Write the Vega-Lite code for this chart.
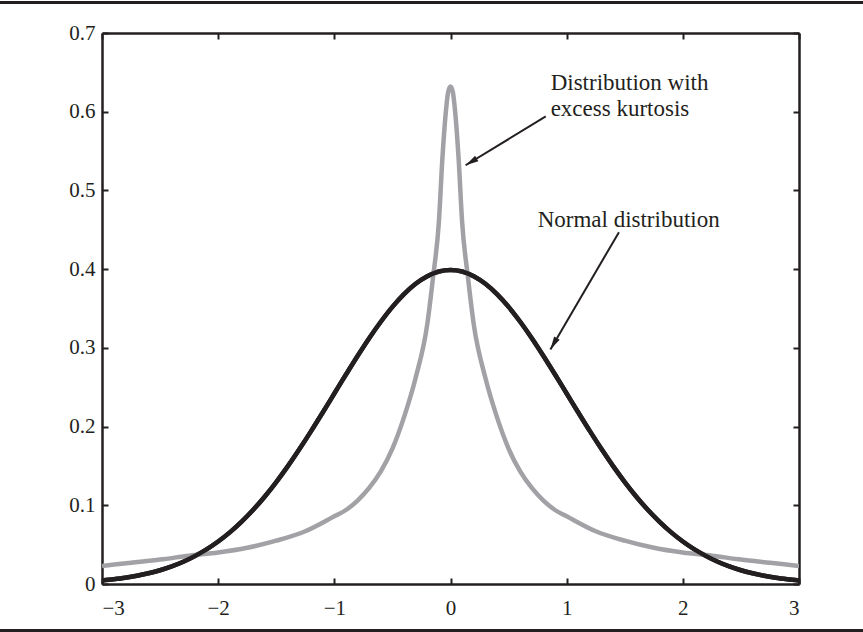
{
  "$schema": "https://vega.github.io/schema/vega-lite/v6.json",
  "width": 697,
  "height": 551,
  "autosize": {"type": "none"},
  "padding": {"left": 102, "top": 33, "right": 64, "bottom": 48},
  "background": "white",
  "config": {
    "view": {"stroke": null},
    "font": "Liberation Serif",
    "axis": {
      "labelFont": "Liberation Serif",
      "labelFontSize": 21,
      "labelColor": "#231f20",
      "domainColor": "#231f20",
      "domainWidth": 2.5,
      "tickColor": "#231f20",
      "tickWidth": 2,
      "tickSize": -6,
      "grid": false,
      "title": null
    }
  },
  "datasets": {
    "normal": [
      {"x": -3.0, "y": 0.0044}, {"x": -2.9, "y": 0.006}, {"x": -2.8, "y": 0.0079}, {"x": -2.7, "y": 0.0104},
      {"x": -2.6, "y": 0.0136}, {"x": -2.5, "y": 0.0175}, {"x": -2.4, "y": 0.0224}, {"x": -2.3, "y": 0.0283},
      {"x": -2.2, "y": 0.0355}, {"x": -2.1, "y": 0.044}, {"x": -2.0, "y": 0.054}, {"x": -1.9, "y": 0.0656},
      {"x": -1.8, "y": 0.079}, {"x": -1.7, "y": 0.094}, {"x": -1.6, "y": 0.1109}, {"x": -1.5, "y": 0.1295},
      {"x": -1.4, "y": 0.1497}, {"x": -1.3, "y": 0.1714}, {"x": -1.2, "y": 0.1942}, {"x": -1.1, "y": 0.2179},
      {"x": -1.0, "y": 0.242}, {"x": -0.9, "y": 0.2661}, {"x": -0.8, "y": 0.2897}, {"x": -0.7, "y": 0.3123},
      {"x": -0.6, "y": 0.3332}, {"x": -0.5, "y": 0.3521}, {"x": -0.4, "y": 0.3683}, {"x": -0.3, "y": 0.3814},
      {"x": -0.2, "y": 0.391}, {"x": -0.1, "y": 0.397}, {"x": 0.0, "y": 0.3989}, {"x": 0.1, "y": 0.397},
      {"x": 0.2, "y": 0.391}, {"x": 0.3, "y": 0.3814}, {"x": 0.4, "y": 0.3683}, {"x": 0.5, "y": 0.3521},
      {"x": 0.6, "y": 0.3332}, {"x": 0.7, "y": 0.3123}, {"x": 0.8, "y": 0.2897}, {"x": 0.9, "y": 0.2661},
      {"x": 1.0, "y": 0.242}, {"x": 1.1, "y": 0.2179}, {"x": 1.2, "y": 0.1942}, {"x": 1.3, "y": 0.1714},
      {"x": 1.4, "y": 0.1497}, {"x": 1.5, "y": 0.1295}, {"x": 1.6, "y": 0.1109}, {"x": 1.7, "y": 0.094},
      {"x": 1.8, "y": 0.079}, {"x": 1.9, "y": 0.0656}, {"x": 2.0, "y": 0.054}, {"x": 2.1, "y": 0.044},
      {"x": 2.2, "y": 0.0355}, {"x": 2.3, "y": 0.0283}, {"x": 2.4, "y": 0.0224}, {"x": 2.5, "y": 0.0175},
      {"x": 2.6, "y": 0.0136}, {"x": 2.7, "y": 0.0104}, {"x": 2.8, "y": 0.0079}, {"x": 2.9, "y": 0.006},
      {"x": 3.0, "y": 0.0044}
    ],
    "kurt": [
      {"x": -3.0, "y": 0.023}, {"x": -2.75, "y": 0.027}, {"x": -2.5, "y": 0.031}, {"x": -2.25, "y": 0.036},
      {"x": -2.0, "y": 0.04}, {"x": -1.75, "y": 0.046}, {"x": -1.5, "y": 0.055}, {"x": -1.25, "y": 0.067},
      {"x": -1.0, "y": 0.086}, {"x": -0.9, "y": 0.094}, {"x": -0.8, "y": 0.106}, {"x": -0.7, "y": 0.122},
      {"x": -0.6, "y": 0.143}, {"x": -0.5, "y": 0.172}, {"x": -0.4, "y": 0.212}, {"x": -0.3, "y": 0.262},
      {"x": -0.2, "y": 0.33}, {"x": -0.15, "y": 0.39}, {"x": -0.1, "y": 0.46}, {"x": -0.07, "y": 0.54},
      {"x": -0.04, "y": 0.6}, {"x": -0.02, "y": 0.625}, {"x": 0.0, "y": 0.632}, {"x": 0.02, "y": 0.625},
      {"x": 0.04, "y": 0.6}, {"x": 0.07, "y": 0.54}, {"x": 0.1, "y": 0.46}, {"x": 0.15, "y": 0.39},
      {"x": 0.2, "y": 0.33}, {"x": 0.3, "y": 0.262}, {"x": 0.4, "y": 0.212}, {"x": 0.5, "y": 0.172},
      {"x": 0.6, "y": 0.143}, {"x": 0.7, "y": 0.122}, {"x": 0.8, "y": 0.106}, {"x": 0.9, "y": 0.094},
      {"x": 1.0, "y": 0.086}, {"x": 1.25, "y": 0.067}, {"x": 1.5, "y": 0.055}, {"x": 1.75, "y": 0.046},
      {"x": 2.0, "y": 0.04}, {"x": 2.25, "y": 0.036}, {"x": 2.5, "y": 0.031}, {"x": 2.75, "y": 0.027},
      {"x": 3.0, "y": 0.023}
    ],
    "labels": [
      {"x": 0.862, "y": 0.627, "text": "Distribution with"},
      {"x": 0.862, "y": 0.595, "text": "excess kurtosis"},
      {"x": 0.75, "y": 0.4535, "text": "Normal distribution"}
    ],
    "arrows": [
      {"x": 0.82, "y": 0.594, "x2": 0.13, "y2": 0.532, "angle": 239},
      {"x": 1.45, "y": 0.447, "x2": 0.86, "y2": 0.298, "angle": 210}
    ],
    "frame": [
      {"x": -3.879, "x2": 3.552, "y": 0.7389},
      {"x": -3.879, "x2": 3.552, "y": -0.0592}
    ]
  },
  "resolve": {"axis": {"x": "independent", "y": "independent"}},
  "layer": [
    {
      "data": {"name": "normal"},
      "mark": {"type": "line", "color": "#231f20", "strokeWidth": 4.5, "interpolate": "monotone", "clip": true},
      "encoding": {
        "x": {"field": "x", "type": "quantitative", "scale": {"domain": [-3, 3], "nice": false, "zero": false},
          "axis": {"orient": "bottom", "values": [-3, -2, -1, 0, 1, 2, 3], "format": "d", "labelPadding": 19, "labelFontSize": 21}},
        "y": {"field": "y", "type": "quantitative", "scale": {"domain": [0, 0.7], "nice": false},
          "axis": {"orient": "left", "values": [0, 0.1, 0.2, 0.3, 0.4, 0.5, 0.6, 0.7], "format": "~g", "labelPadding": 13, "labelFontSize": 21}}
      }
    },
    {
      "data": {"name": "kurt"},
      "mark": {"type": "line", "color": "#a2a2a6", "strokeWidth": 4.5, "interpolate": "monotone", "clip": true},
      "encoding": {
        "x": {"field": "x", "type": "quantitative",
          "axis": {"orient": "top", "values": [-3, -2, -1, 0, 1, 2, 3], "labels": false}},
        "y": {"field": "y", "type": "quantitative",
          "axis": {"orient": "right", "values": [0, 0.1, 0.2, 0.3, 0.4, 0.5, 0.6, 0.7], "labels": false}}
      }
    },
    {
      "data": {"name": "normal"},
      "mark": {"type": "line", "color": "#231f20", "strokeWidth": 4.5, "interpolate": "monotone", "clip": true},
      "encoding": {
        "x": {"field": "x", "type": "quantitative", "axis": null},
        "y": {"field": "y", "type": "quantitative", "axis": null}
      }
    },
    {
      "data": {"name": "arrows"},
      "mark": {"type": "rule", "color": "#231f20", "strokeWidth": 2},
      "encoding": {
        "x": {"field": "x", "type": "quantitative", "axis": null},
        "y": {"field": "y", "type": "quantitative", "axis": null},
        "x2": {"field": "x2"},
        "y2": {"field": "y2"}
      }
    },
    {
      "data": {"name": "arrows"},
      "mark": {"type": "point", "shape": "M0,0L-0.32,1.3L0.32,1.3Z", "filled": true, "color": "#231f20", "opacity": 1, "size": 400, "strokeWidth": 0},
      "encoding": {
        "x": {"field": "x2", "type": "quantitative", "axis": null},
        "y": {"field": "y2", "type": "quantitative", "axis": null},
        "angle": {"field": "angle", "type": "quantitative", "scale": null}
      }
    },
    {
      "data": {"name": "labels"},
      "mark": {"type": "text", "align": "left", "baseline": "alphabetic", "font": "Liberation Serif", "fontSize": 23, "color": "#231f20"},
      "encoding": {
        "x": {"field": "x", "type": "quantitative", "axis": null},
        "y": {"field": "y", "type": "quantitative", "axis": null},
        "text": {"field": "text"}
      }
    },
    {
      "data": {"name": "frame"},
      "mark": {"type": "rule", "color": "#231f20", "strokeWidth": 3, "clip": false},
      "encoding": {
        "x": {"field": "x", "type": "quantitative", "axis": null},
        "x2": {"field": "x2"},
        "y": {"field": "y", "type": "quantitative", "axis": null}
      }
    }
  ]
}
